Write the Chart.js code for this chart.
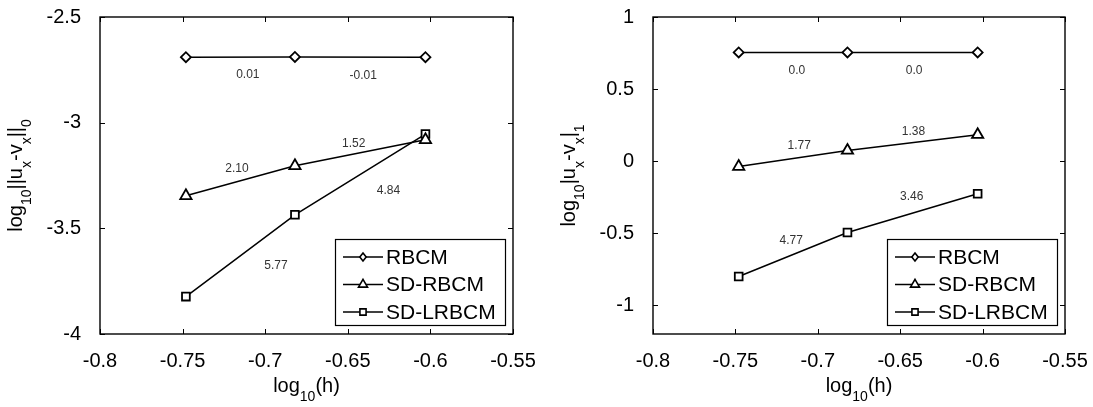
<!DOCTYPE html>
<html>
<head>
<meta charset="utf-8">
<script src="https://cdn.jsdelivr.net/npm/chart.js@4.4.1/dist/chart.umd.min.js"></script>
<style>
  html, body { margin: 0; padding: 0; background: #fff; }
  #wrap { position: relative; width: 1093px; height: 407px; }
  canvas { position: absolute; top: 0; }
</style>
</head>
<body>
<div id="wrap">
  <canvas id="left" width="546" height="407" style="left:0"></canvas>
  <canvas id="right" width="547" height="407" style="left:546px"></canvas>
</div>
<script>
// mesh sizes, log10(h)
const logH = [-0.748, -0.682, -0.603];
const xTicks = [-0.8, -0.75, -0.7, -0.65, -0.6, -0.55];
const methods = ['RBCM', 'SD-RBCM', 'SD-LRBCM'];

// log10 ||u_x - v_x||_0
const l2RBCM = [-2.690, -2.689, -2.690];
const l2SDRBCM = [-3.346, -3.204, -3.081];
const l2SDLRBCM = [-3.823, -3.436, -3.054];
const l2Ticks = [-4, -3.5, -3, -2.5];
const l2Rates = ['0.01', '-0.01', '2.10', '1.52', '5.77', '4.84'];
const l2RateAt = [[-0.7105, -2.772], [-0.6407, -2.777], [-0.7171, -3.218],
                  [-0.6464, -3.100], [-0.6935, -3.676], [-0.6254, -3.321]];

// log10 |u_x - v_x|_1
const h1RBCM = [0.754, 0.754, 0.754];
const h1SDRBCM = [-0.038, 0.074, 0.183];
const h1SDLRBCM = [-0.801, -0.496, -0.227];
const h1Ticks = [-1, -0.5, 0, 0.5, 1];
const h1Rates = ['0.0', '0.0', '1.77', '1.38', '4.77', '3.46'];
const h1RateAt = [[-0.7127, 0.629], [-0.6416, 0.629], [-0.7113, 0.108],
                  [-0.642, 0.206], [-0.7161, -0.551], [-0.643, -0.246]];

const FONT = '"Liberation Sans", Arial, Helvetica, sans-serif';
const markers = ['rectRot', 'triangle', 'rect'];
const markerSize = [5, 6.5, 5.5];

function fmt(v) { return String(+Number(v).toFixed(2)); }

// text with subscripts, centred on (x, y) baseline
function drawRich(ctx, parts, x, y, rotated) {
  const main = '20px ' + FONT, sub = '14px ' + FONT;
  let w = 0;
  parts.forEach(p => { ctx.font = p.sub ? sub : main; w += ctx.measureText(p.t).width; });
  ctx.save();
  ctx.translate(x, y);
  if (rotated) ctx.rotate(-Math.PI / 2);
  ctx.fillStyle = '#000';
  ctx.textAlign = 'left';
  ctx.textBaseline = 'alphabetic';
  let cx = -w / 2;
  parts.forEach(p => {
    ctx.font = p.sub ? sub : main;
    ctx.fillText(p.t, cx, p.sub ? 9 : 0);
    cx += ctx.measureText(p.t).width;
  });
  ctx.restore();
}

function drawMarker(ctx, style, x, y, r) {
  ctx.beginPath();
  if (style === 'rectRot') {
    ctx.moveTo(x, y - r); ctx.lineTo(x + r * 0.8, y); ctx.lineTo(x, y + r); ctx.lineTo(x - r * 0.8, y);
  } else if (style === 'triangle') {
    ctx.moveTo(x, y - r); ctx.lineTo(x + r * 0.87, y + r * 0.5); ctx.lineTo(x - r * 0.87, y + r * 0.5);
  } else {
    ctx.rect(x - r * 0.7, y - r * 0.7, r * 1.4, r * 1.4);
  }
  ctx.closePath();
  ctx.fill();
  ctx.stroke();
}

const figurePlugin = {
  id: 'figure',
  afterDraw(chart) {
    const o = chart.options.plugins.figure;
    const ctx = chart.ctx;
    const a = chart.chartArea;
    const xs = chart.scales.x, ys = chart.scales.y;

    // box and inward ticks
    ctx.save();
    ctx.strokeStyle = '#000';
    ctx.lineWidth = 1.4;
    ctx.strokeRect(a.left, a.top, a.right - a.left, a.bottom - a.top);
    ctx.lineWidth = 1;
    ctx.beginPath();
    xs.ticks.forEach(t => {
      const px = Math.round(xs.getPixelForValue(t.value)) + 0.5;
      ctx.moveTo(px, a.bottom); ctx.lineTo(px, a.bottom - 5);
      ctx.moveTo(px, a.top); ctx.lineTo(px, a.top + 5);
    });
    ys.ticks.forEach(t => {
      const py = Math.round(ys.getPixelForValue(t.value)) + 0.5;
      ctx.moveTo(a.left, py); ctx.lineTo(a.left + 5, py);
      ctx.moveTo(a.right, py); ctx.lineTo(a.right - 5, py);
    });
    ctx.stroke();

    // convergence rates
    ctx.fillStyle = '#333';
    ctx.font = '12px ' + FONT;
    ctx.textAlign = 'center';
    ctx.textBaseline = 'middle';
    o.rates.forEach((txt, i) => {
      ctx.fillText(txt, xs.getPixelForValue(o.rateAt[i][0]), ys.getPixelForValue(o.rateAt[i][1]));
    });

    // legend
    const lw = 170, lh = 86;
    const lx = a.right - 8 - lw, ly = a.bottom - 9 - lh;
    ctx.fillStyle = '#fff';
    ctx.fillRect(lx, ly, lw, lh);
    ctx.lineWidth = 1.2;
    ctx.strokeRect(lx + 0.5, ly + 0.5, lw, lh);
    chart.data.datasets.forEach((ds, i) => {
      const ry = ly + 18 + i * 27.5;
      ctx.strokeStyle = '#000';
      ctx.lineWidth = 1.5;
      ctx.beginPath(); ctx.moveTo(lx + 8, ry); ctx.lineTo(lx + 48, ry); ctx.stroke();
      ctx.fillStyle = '#fff';
      ctx.lineWidth = 1.6;
      drawMarker(ctx, ds.pointStyle, lx + 28, ry, markerSize[i] * 0.8);
      ctx.fillStyle = '#000';
      ctx.font = '21px ' + FONT;
      ctx.textAlign = 'left';
      ctx.textBaseline = 'middle';
      ctx.fillText(ds.label, lx + 51, ry + 1);
    });

    // axis titles
    drawRich(ctx, [{ t: 'log' }, { t: '10', sub: true }, { t: '(h)' }], (a.left + a.right) / 2, 392, false);
    drawRich(ctx, o.yTitle, a.left - 78, (a.top + a.bottom) / 2, true);
    ctx.restore();
  }
};

function makeChart(id, series, yTicks, yMin, yMax, yWidth, padRight, yTitle, rates, rateAt) {
  return new Chart(document.getElementById(id), {
    type: 'line',
    data: {
      datasets: series.map((vals, i) => ({
        label: methods[i],
        data: vals.map((v, j) => ({ x: logH[j], y: v })),
        borderColor: '#000',
        borderWidth: 1.5,
        pointStyle: markers[i],
        pointRadius: markerSize[i],
        pointBorderWidth: 1.8,
        pointBorderColor: '#000',
        pointBackgroundColor: '#fff',
        tension: 0
      }))
    },
    options: {
      responsive: false,
      animation: false,
      layout: { padding: { top: 17, right: padRight, left: 0, bottom: 0 } },
      plugins: {
        legend: { display: false },
        tooltip: { enabled: false },
        figure: { yTitle, rates, rateAt }
      },
      scales: {
        x: {
          type: 'linear', min: -0.8, max: -0.55,
          grid: { display: false }, border: { display: false },
          afterBuildTicks: s => { s.ticks = xTicks.map(v => ({ value: v })); },
          afterFit: s => { s.height = 73; s.paddingLeft = 0; s.paddingRight = 0; },
          ticks: { color: '#000', font: { family: FONT, size: 20 }, padding: 7, maxRotation: 0, callback: fmt }
        },
        y: {
          type: 'linear', min: yMin, max: yMax,
          grid: { display: false }, border: { display: false },
          afterBuildTicks: s => { s.ticks = yTicks.map(v => ({ value: v })); },
          afterFit: s => { s.width = yWidth; s.paddingTop = 0; s.paddingBottom = 0; },
          ticks: { color: '#000', font: { family: FONT, size: 20 }, padding: 11, callback: fmt }
        }
      }
    },
    plugins: [figurePlugin]
  });
}

makeChart('left', [l2RBCM, l2SDRBCM, l2SDLRBCM], l2Ticks, -4, -2.5, 100, 33,
  [{ t: 'log' }, { t: '10', sub: true }, { t: '||u' }, { t: 'x', sub: true }, { t: '-v' }, { t: 'x', sub: true }, { t: '||' }, { t: '0', sub: true }],
  l2Rates, l2RateAt);

makeChart('right', [h1RBCM, h1SDRBCM, h1SDLRBCM], h1Ticks, -1.2, 1, 107, 28,
  [{ t: 'log' }, { t: '10', sub: true }, { t: '|u' }, { t: 'x', sub: true }, { t: '-v' }, { t: 'x', sub: true }, { t: '|' }, { t: '1', sub: true }],
  h1Rates, h1RateAt);
</script>
</body>
</html>
